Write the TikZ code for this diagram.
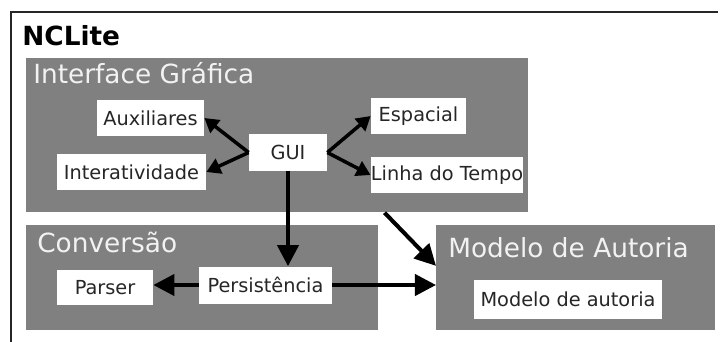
\documentclass[tikz,border=0pt]{standalone}
\usepackage{fontspec}
\setmainfont{DejaVu Sans}
\usetikzlibrary{arrows.meta}
\definecolor{panelgray}{RGB}{128,128,128}

\begin{document}
\begin{tikzpicture}[
x=0.02cm, y=-0.02cm,
panel/.style={fill=panelgray, inner sep=0, anchor=north west},
head/.style={text=white!95!black, font=\fontsize{15pt}{17pt}\selectfont, anchor=base west, inner sep=0},
item/.style={fill=white, inner sep=0, text=black!85, font=\fontsize{11pt}{13pt}\selectfont},
arrow/.style={line width=2.3pt, -{Triangle[length=12pt,width=12pt]}},
sarrow/.style={line width=2pt, -{Triangle[length=8pt,width=9pt]}}
]

\def\px{0.02cm}	% one pixel of the reference

%% Frame
\useasboundingbox (0,0) rectangle (725,342);
\draw[line width=1.2pt, black!85] (11,342)--(11,12)--(718,12);
\node[anchor=base west, inner sep=0, font=\bfseries\fontsize{15pt}{17pt}\selectfont] (title) at (22,45) {NCLite};

%% Panels
\node[panel, minimum width=502*\px, minimum height=154*\px] (iface) at (26,58) {};
\node[panel, minimum width=352*\px, minimum height=105*\px] (conv) at (26,225) {};
\node[panel, minimum width=279*\px, minimum height=105*\px] (modelo) at (436,225) {};

\node[head] (ifacehead) at (33,83) {Interface Gráfica};
\node[head] (convhead) at (37,252) {Conversão};
\node[head] (modelohead) at (448,257) {Modelo de Autoria};

%% Components
\node[item, minimum width=107*\px, minimum height=36*\px] (aux) at (150.5,118) {Auxiliares};
\node[item, minimum width=149*\px, minimum height=36*\px] (inter) at (131.5,172) {Interatividade};
\node[item, minimum width=78*\px, minimum height=37*\px] (gui) at (288,152.5) {GUI};
\node[item, minimum width=95*\px, minimum height=36*\px] (esp) at (418.5,116) {Espacial};
\node[item, minimum width=146*\px, minimum height=36*\px] (lt) at (447,175) {Linha do Tempo};
\node[item, minimum width=96*\px, minimum height=35*\px] (parser) at (105,287.5) {Parser};
\node[item, minimum width=133*\px, minimum height=37*\px] (pers) at (265.5,285) {Persistência};
\node[item, minimum width=188*\px, minimum height=39*\px] (autoria) at (568,299.5) {Modelo de autoria};

%% Arrows
\draw[sarrow] (gui.west) -- (aux.east);
\draw[sarrow] (gui.west) -- (inter.east);
\draw[sarrow] (gui.east) -- (esp.west);
\draw[sarrow] (gui.east) -- (lt.west);

\draw[arrow] (gui.south) -- (gui.south |- pers.north);
\draw[arrow] (pers.west) -- (pers.west -| parser.east);
\draw[arrow] (pers.east) -- (pers.east -| modelo.west);
\draw[arrow] ([xshift=14*\px]lt.west |- iface.south) -- ([yshift=12*\px]modelo.west);

\end{tikzpicture}
\end{document}
